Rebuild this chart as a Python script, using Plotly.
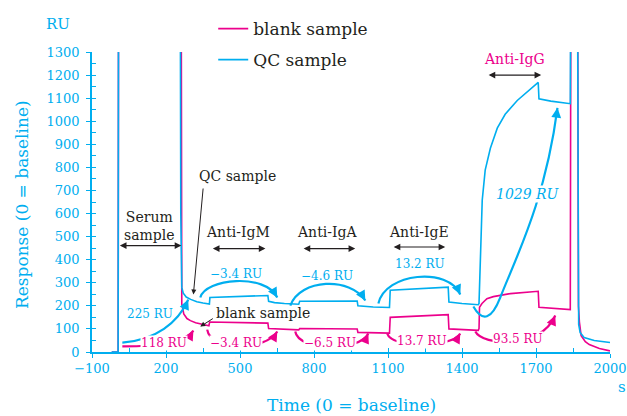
import plotly.graph_objects as go

CYAN = "#00AEEF"
MAGENTA = "#EC008C"
INK = "#231F20"
FONT = "DejaVu Serif"

# ---- data (time in s, response in RU) ----
qc_t = [-20, 6, 8, 257, 260, 264, 270, 282, 300, 325, 350, 376,
        378, 613, 616, 640, 680, 738,
        742, 975, 978, 1040, 1106,
        1109, 1344, 1347, 1400, 1466,
        1469, 1472, 1474, 1482, 1494, 1515, 1543, 1575, 1624, 1669, 1709,
        1712, 1760, 1839,
        1842, 1867, 1870, 1873, 1879, 1895, 1936, 2000]
qc_ru = [0, 0, 2000, 2000, 600, 280, 255, 238, 228, 218, 212, 208,
         236, 245, 220, 214, 210, 207,
         220, 221, 200, 195, 193,
         268, 281, 217, 210, 205,
         210, 330, 439, 658, 788, 883, 970, 1030, 1090, 1133, 1168,
         1097, 1087, 1076,
         2000, 2000, 200, 120, 84, 63, 50, 41]

blank_t = [-20, 6, 8, 261, 264, 268, 272, 285, 299, 320, 339, 367, 374,
           377, 613, 616, 680, 738,
           742, 975, 978, 1106,
           1109, 1344, 1347, 1466,
           1469, 1471, 1481, 1501, 1527, 1596, 1709,
           1712, 1839,
           1842, 1868, 1872, 1876, 1883, 1900, 1916, 1957, 2000]
blank_ru = [0, 0, 2000, 2000, 208, 180, 165, 145, 136, 127, 122, 115, 114,
            130, 125, 102, 99, 96,
            102, 100, 85, 82,
            150, 162, 100, 94,
            101, 194, 210, 231, 240, 253, 263,
            194, 184,
            2000, 2000, 200, 130, 71, 45, 32, 15, 5]

x_ticks = list(range(-100, 2001, 300))
y_ticks = list(range(0, 1301, 100))

fig = go.Figure()
fig.add_trace(go.Scatter(x=blank_t, y=blank_ru, mode="lines", name="blank sample",
                         line=dict(color=MAGENTA, width=1.6), legend="legend"))
fig.add_trace(go.Scatter(x=qc_t, y=qc_ru, mode="lines", name="QC sample",
                         line=dict(color=CYAN, width=1.6), legend="legend2"))
# helper trace for the inner half of major ticks
fig.add_trace(go.Scatter(x=[], y=[], xaxis="x2", yaxis="y2", showlegend=False, hoverinfo="skip"))

shapes = []
ann = []

def arc(p, color):
    (x0, y0), (x1, y1), (x2, y2), (x3, y3) = p
    shapes.append(dict(type="path", xref="x", yref="y",
                       path=f"M {x0},{y0} C {x1},{y1} {x2},{y2} {x3},{y3}",
                       line=dict(color=color, width=2.2)))

def head(x, y, ax, ay, color):
    ann.append(dict(x=x, y=y, ax=ax, ay=ay, xref="x", yref="y", text="",
                    showarrow=True, arrowhead=2, arrowsize=0.9, arrowwidth=2.2,
                    arrowcolor=color, standoff=0))

def label(x, y, text, color, size=12, bg=None, italic=False):
    d = dict(x=x, y=y, xref="x", yref="y", text=text, showarrow=False,
             font=dict(family=FONT, size=size, color=color,
                       style="italic" if italic else "normal"),
             xanchor="center", yanchor="middle", borderpad=0)
    if bg:
        d["bgcolor"] = bg
    ann.append(d)

def dbl(x0, x1, y):
    ann.append(dict(x=x1, y=y, ax=x0, ay=y, xref="x", yref="y", axref="x", ayref="y",
                    text="", showarrow=True, arrowside="end+start", arrowhead=2,
                    arrowsize=1.1, arrowwidth=1.2, arrowcolor=INK, standoff=0, startstandoff=0))

def pointer(xt, yt, xs, ys):
    ann.append(dict(x=xt, y=yt, ax=xs, ay=ys, xref="x", yref="y", axref="x", ayref="y",
                    text="", showarrow=True, arrowhead=2, arrowsize=1.0, arrowwidth=1.0,
                    arrowcolor=INK, standoff=0))

# injection labels
label(132, 547, "Serum<br>sample", INK, 14)
dbl(7, 262, 461)
label(493, 521, "Anti-IgM", INK, 14)
dbl(384, 603, 448)
label(851, 521, "Anti-IgA", INK, 14)
dbl(752, 967, 448)
label(1224, 521, "Anti-IgE", INK, 14)
dbl(1117, 1332, 455)
label(1612, 1270, "Anti-IgG", MAGENTA, 14)
dbl(1502, 1721, 1200)

label(489, 764, "QC sample", INK, 14)
pointer(311, 249, 351, 715)
label(595, 167, "blank sample", INK, 14)
pointer(339, 110, 396, 149)

# response arcs
arc([(23, 41), (157, 50), (250, 128), (290, 227)], CYAN); head(290, 227, -3, 7, CYAN)
label(137, 166, "225 RU", CYAN)
arc([(23, 24), (177, 24), (278, 41), (311, 93)], MAGENTA); head(311, 93, -4, 7, MAGENTA)
label(190, 41, "118 RU", MAGENTA, bg="white")

arc([(339, 236), (359, 318), (603, 344), (651, 236)], CYAN); head(651, 236, -4, -7, CYAN)
label(485, 340, "\u22123.4 RU", CYAN)
arc([(704, 201), (744, 318), (947, 327), (1008, 223)], CYAN); head(1008, 223, -4, -7, CYAN)
label(851, 331, "\u22124.6 RU", CYAN)
arc([(1061, 210), (1089, 344), (1344, 370), (1393, 249)], CYAN); head(1393, 249, -3, -7, CYAN)
label(1231, 383, "13.2 RU", CYAN)

shapes.append(dict(type="path", xref="x", yref="y",
                   path="M 1446,197 Q 1502,93 1555,236 C 1618,409 1738,655 1787,1058",
                   line=dict(color=CYAN, width=2.2)))
head(1787, 1058, -1, 8, CYAN)
label(1669, 686, "1029 RU", CYAN, 14, bg="white", italic=True)

arc([(367, 97), (380, 6), (603, 2), (651, 89)], MAGENTA); head(651, 89, -4, 7, MAGENTA)
label(485, 41, "\u22123.4 RU", MAGENTA, bg="white")
arc([(724, 89), (737, 2), (988, 2), (1020, 80)], MAGENTA); head(1020, 80, -3, 7, MAGENTA)
label(866, 41, "\u22126.5 RU", MAGENTA, bg="white")
arc([(1097, 80), (1117, 15), (1353, 15), (1393, 80)], MAGENTA); head(1393, 80, -4, 7, MAGENTA)
label(1239, 48, "13.7 RU", MAGENTA, bg="white")
arc([(1454, 89), (1482, 28), (1717, 6), (1778, 158)], MAGENTA); head(1778, 158, -3, 7, MAGENTA)
label(1625, 58, "93.5 RU", MAGENTA, bg="white")

# units and axis titles
ann.append(dict(x=-0.066, y=1.095, xref="paper", yref="paper", text="RU", showarrow=False,
                font=dict(family=FONT, size=15, color=CYAN), xanchor="center", yanchor="middle"))
ann.append(dict(x=1.023, y=-0.116, xref="paper", yref="paper", text="s", showarrow=False,
                font=dict(family=FONT, size=15, color=CYAN), xanchor="center", yanchor="middle"))
ann.append(dict(x=0.5, y=-0.176, xref="paper", yref="paper", text="Time (0 = baseline)",
                showarrow=False, font=dict(family=FONT, size=17, color=CYAN),
                xanchor="center", yanchor="middle"))
ann.append(dict(x=-0.135, y=0.49, xref="paper", yref="paper", text="Response (0 = baseline)",
                showarrow=False, textangle=-90, font=dict(family=FONT, size=17, color=CYAN),
                xanchor="center", yanchor="middle"))

axis_common = dict(showgrid=False, zeroline=False, tickcolor=CYAN, tickwidth=1.3, automargin=False)

fig.update_layout(
    width=627, height=416,
    margin=dict(l=92, r=17, t=51, b=64),
    plot_bgcolor="white", paper_bgcolor="white",
    font=dict(family=FONT, color=INK),
    xaxis=dict(range=[-100, 2000], tickmode="array", tickvals=x_ticks,
               ticks="outside", ticklen=4, showline=True, linecolor=CYAN, linewidth=1.5,
               tickfont=dict(family=FONT, size=13, color=CYAN),
               minor=dict(tick0=50, dtick=300, ticks="inside", ticklen=4, tickcolor=CYAN, tickwidth=1.1),
               **axis_common),
    yaxis=dict(range=[0, 1300], tickmode="array", tickvals=y_ticks,
               ticks="outside", ticklen=4, showline=True, linecolor=CYAN, linewidth=1.5,
               tickfont=dict(family=FONT, size=13, color=CYAN), ticklabelstandoff=4,
               minor=dict(tick0=50, dtick=100, ticks="inside", ticklen=4, tickcolor=CYAN, tickwidth=1.1),
               **axis_common),
    xaxis2=dict(range=[-100, 2000], overlaying="x", anchor="y", tickmode="array", tickvals=x_ticks,
                ticks="inside", ticklen=4, showticklabels=False, showline=False, **axis_common),
    yaxis2=dict(range=[0, 1300], overlaying="y", anchor="x", tickmode="array", tickvals=y_ticks,
                ticks="inside", ticklen=4, showticklabels=False, showline=False, **axis_common),
    legend=dict(x=0.234, y=1.073, xanchor="left", yanchor="middle", bgcolor="rgba(0,0,0,0)",
                font=dict(family=FONT, size=17, color=INK), itemwidth=30),
    legend2=dict(x=0.234, y=0.970, xanchor="left", yanchor="middle", bgcolor="rgba(0,0,0,0)",
                 font=dict(family=FONT, size=17, color=INK), itemwidth=30),
    shapes=shapes, annotations=ann, showlegend=True,
)

fig.write_html("out.html")
